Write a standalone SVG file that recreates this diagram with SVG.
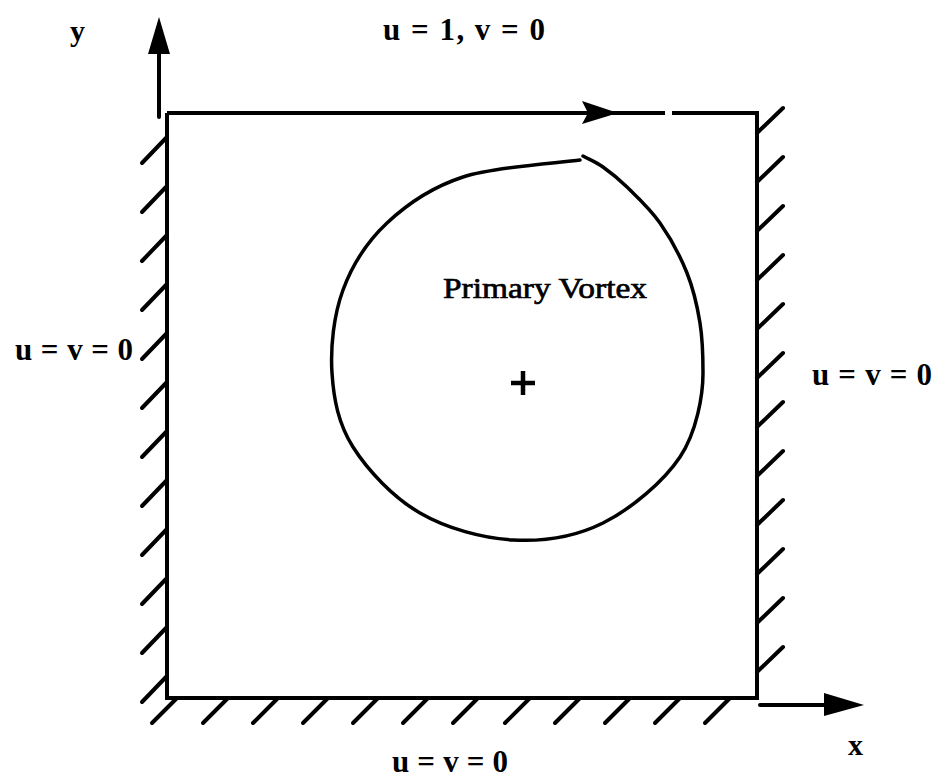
<svg xmlns="http://www.w3.org/2000/svg" width="937" height="778" viewBox="0 0 937 778">
<style>
.wall{fill:none;stroke:#000;stroke-width:4;stroke-linejoin:miter}
.hatch{stroke:#000;stroke-width:4;stroke-linecap:round}
.axis{stroke:#000;stroke-width:4;stroke-linecap:round;fill:none}
.head{fill:#000;stroke:none}
.lbl{font-family:"Liberation Serif","Times New Roman",serif;font-weight:bold;fill:#000}
.vtx{font-family:"Liberation Serif","Times New Roman",serif;font-weight:normal;fill:#000;stroke:#000;stroke-width:0.7}
</style>
<rect width="937" height="778" fill="#fff"/>
<g id="cavity">
  <path class="wall" d="M167,113 H665 M672,113 H757 V698 H167 V113"/>
  <g id="hatch-left">
    <line class="hatch" x1="167" y1="137" x2="142" y2="163"/>
    <line class="hatch" x1="167" y1="186" x2="142" y2="212"/>
    <line class="hatch" x1="167" y1="235" x2="142" y2="261"/>
    <line class="hatch" x1="167" y1="284" x2="142" y2="310"/>
    <line class="hatch" x1="167" y1="333" x2="142" y2="359"/>
    <line class="hatch" x1="167" y1="382" x2="142" y2="408"/>
    <line class="hatch" x1="167" y1="431" x2="142" y2="457"/>
    <line class="hatch" x1="167" y1="480" x2="142" y2="506"/>
    <line class="hatch" x1="167" y1="529" x2="142" y2="555"/>
    <line class="hatch" x1="167" y1="578" x2="142" y2="604"/>
    <line class="hatch" x1="167" y1="627" x2="142" y2="653"/>
    <line class="hatch" x1="167" y1="676" x2="142" y2="702"/>
  </g>
  <g id="hatch-right">
    <line class="hatch" x1="757" y1="133" x2="783" y2="108"/>
    <line class="hatch" x1="757" y1="182" x2="783" y2="157"/>
    <line class="hatch" x1="757" y1="231" x2="783" y2="206"/>
    <line class="hatch" x1="757" y1="280" x2="783" y2="255"/>
    <line class="hatch" x1="757" y1="329" x2="783" y2="304"/>
    <line class="hatch" x1="757" y1="378" x2="783" y2="353"/>
    <line class="hatch" x1="757" y1="427" x2="783" y2="402"/>
    <line class="hatch" x1="757" y1="476" x2="783" y2="451"/>
    <line class="hatch" x1="757" y1="525" x2="783" y2="500"/>
    <line class="hatch" x1="757" y1="574" x2="783" y2="549"/>
    <line class="hatch" x1="757" y1="623" x2="783" y2="598"/>
    <line class="hatch" x1="757" y1="672" x2="783" y2="647"/>
  </g>
  <g id="hatch-bottom">
    <line class="hatch" x1="177" y1="698" x2="152" y2="723"/>
    <line class="hatch" x1="228" y1="698" x2="203" y2="723"/>
    <line class="hatch" x1="278" y1="698" x2="253" y2="723"/>
    <line class="hatch" x1="328" y1="698" x2="303" y2="723"/>
    <line class="hatch" x1="378" y1="698" x2="353" y2="723"/>
    <line class="hatch" x1="428" y1="698" x2="403" y2="723"/>
    <line class="hatch" x1="478" y1="698" x2="453" y2="723"/>
    <line class="hatch" x1="530" y1="698" x2="505" y2="723"/>
    <line class="hatch" x1="580" y1="698" x2="555" y2="723"/>
    <line class="hatch" x1="630" y1="698" x2="605" y2="723"/>
    <line class="hatch" x1="680" y1="698" x2="655" y2="723"/>
    <line class="hatch" x1="730" y1="698" x2="705" y2="723"/>
  </g>
</g>
<g id="vortex">
  <path fill="none" stroke="#000" stroke-width="3.5" stroke-linecap="round" d="M580,160 C560,163 495.2,166.5 463,177 C430.8,187.5 407,204.2 387,223 C367,241.8 352.2,265 343,290 C333.8,315 330.3,346.8 332,373 C333.7,399.2 338.3,423.7 353,447 C367.7,470.3 393.3,497.5 420,513 C446.7,528.5 482.5,538.3 513,540 C543.5,541.7 575.2,536.8 603,523 C630.8,509.2 663.3,482 680,457 C696.7,432 703,395 703,373 C703,356 702.7,339.7 700,323 C697.3,306.3 693.7,289.7 687,273 C680.3,256.3 670,237.3 660,223 C650,208.7 636.5,196.3 627,187 C617.5,177.7 610.3,172.2 603,167 C595.7,161.8 589.7,159.7 583,156"/>
  <text class="vtx" x="443" y="298" font-size="30" textLength="204" lengthAdjust="spacingAndGlyphs">Primary Vortex</text>
  <path stroke="#000" stroke-width="4.5" d="M511,383 H535 M523,371 V395"/>
</g>
<g id="connectors">
  <g id="y-axis">
    <line class="axis" x1="159" y1="117" x2="159" y2="50"/>
    <polygon class="head" points="159,17 148,54 170,54"/>
  </g>
  <g id="lid-arrow">
    <polygon class="head" points="618,113 582,101 588,113 582,124"/>
  </g>
  <g id="x-axis">
    <line class="axis" x1="760" y1="705" x2="828" y2="705"/>
    <polygon class="head" points="864,705 824,693 824,716"/>
  </g>
</g>
<g id="labels">
  <text class="lbl" x="70" y="41" font-size="30">y</text>
  <text class="lbl" x="848" y="755" font-size="30">x</text>
  <text class="lbl" x="383" y="40" font-size="31" textLength="162" lengthAdjust="spacing">u = 1,  v = 0</text>
  <text class="lbl" x="15" y="360" font-size="31" textLength="118" lengthAdjust="spacing">u = v = 0</text>
  <text class="lbl" x="812" y="385" font-size="31" textLength="120" lengthAdjust="spacing">u = v = 0</text>
  <text class="lbl" x="392" y="772" font-size="31" textLength="116" lengthAdjust="spacing">u = v = 0</text>
</g>
</svg>
